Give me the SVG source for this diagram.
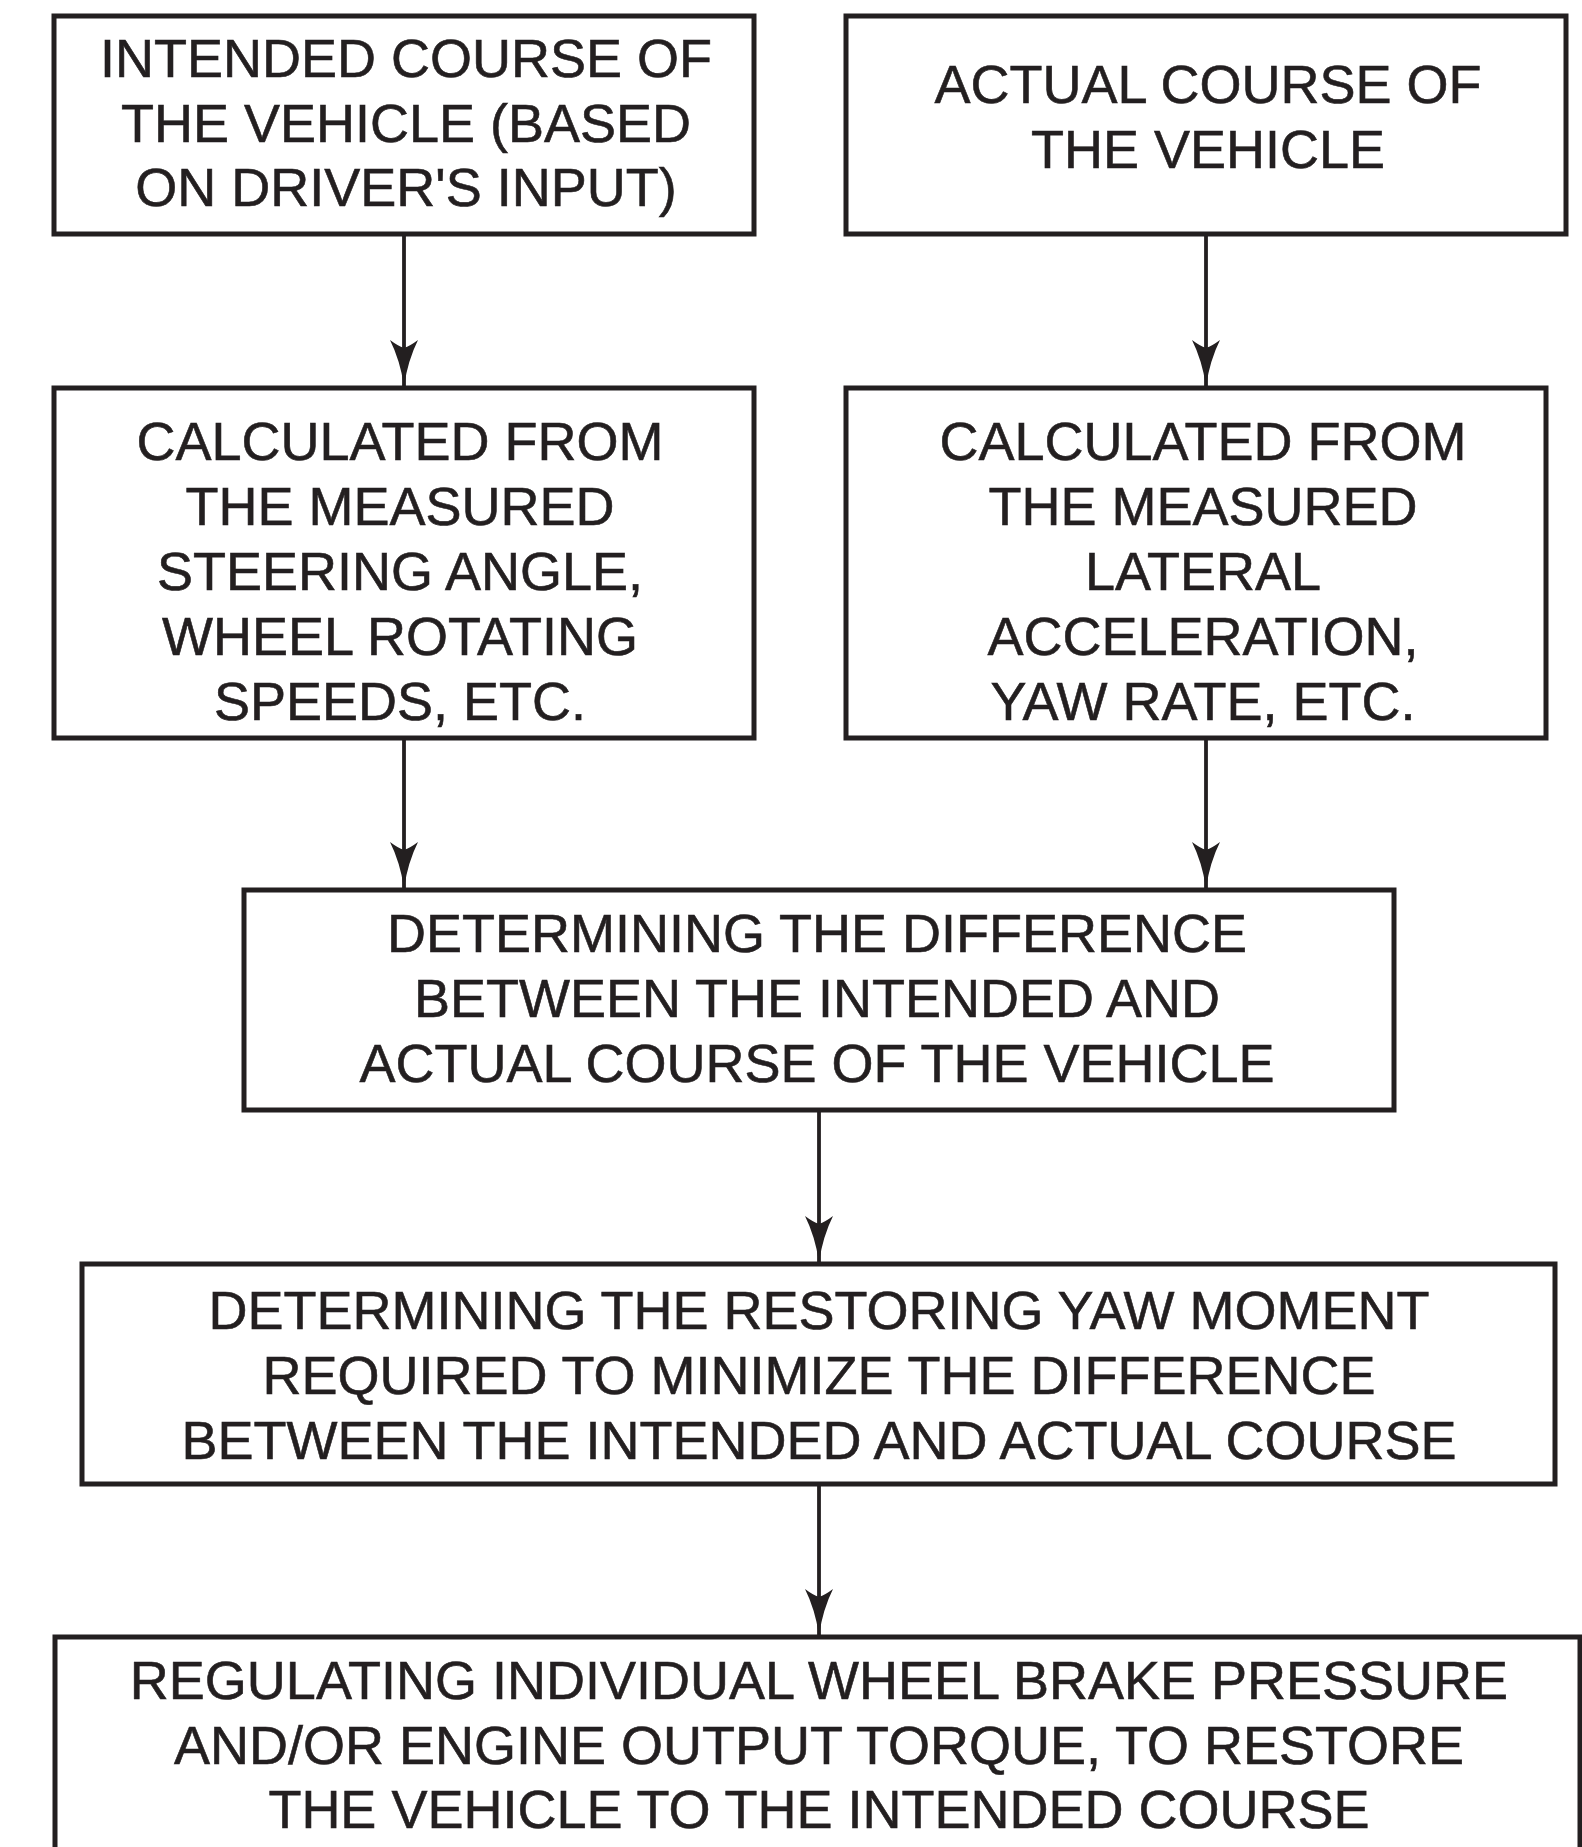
<svg xmlns="http://www.w3.org/2000/svg" width="1582" height="1847" viewBox="0 0 1582 1847">
<style>
.box{fill:#fff;stroke:#231f20;stroke-width:5}
.t{font-family:"Liberation Sans",Arial,Helvetica,sans-serif;font-size:54px;fill:#231f20;stroke:#231f20;stroke-width:0.6;text-anchor:middle}
.ln{stroke:#231f20;stroke-width:3.8;fill:none}
</style>
<defs>
<marker id="ah" markerUnits="userSpaceOnUse" markerWidth="50" markerHeight="32" viewBox="-48 -16 50 32" refX="0" refY="0" orient="auto">
<path d="M0,0 Q-26,-4 -46,-14 Q-40,-6 -38,0 Q-40,6 -46,14 Q-26,4 0,0 Z" fill="#231f20"/>
</marker>
</defs>
<rect width="1582" height="1847" fill="#fff"/>
<g id="connectors">
<line class="ln" x1="404" y1="234" x2="404" y2="386" marker-end="url(#ah)"/>
<line class="ln" x1="1206" y1="234" x2="1206" y2="386" marker-end="url(#ah)"/>
<line class="ln" x1="404" y1="738" x2="404" y2="888" marker-end="url(#ah)"/>
<line class="ln" x1="1206" y1="738" x2="1206" y2="888" marker-end="url(#ah)"/>
<line class="ln" x1="819" y1="1110" x2="819" y2="1262" marker-end="url(#ah)"/>
<line class="ln" x1="819" y1="1484" x2="819" y2="1635" marker-end="url(#ah)"/>
</g>
<g id="n1">
<rect class="box" x="54" y="16" width="700" height="218"/>
<text class="t" x="406" y="77">INTENDED COURSE OF</text>
<text class="t" x="406" y="142">THE VEHICLE (BASED</text>
<text class="t" x="406" y="206">ON DRIVER'S INPUT)</text>
</g>
<g id="n2">
<rect class="box" x="846" y="16" width="720" height="218"/>
<text class="t" x="1208" y="103">ACTUAL COURSE OF</text>
<text class="t" x="1208" y="168">THE VEHICLE</text>
</g>
<g id="n3">
<rect class="box" x="54" y="388" width="700" height="350"/>
<text class="t" x="400" y="460">CALCULATED FROM</text>
<text class="t" x="400" y="525">THE MEASURED</text>
<text class="t" x="400" y="590">STEERING ANGLE,</text>
<text class="t" x="400" y="655">WHEEL ROTATING</text>
<text class="t" x="400" y="720">SPEEDS, ETC.</text>
</g>
<g id="n4">
<rect class="box" x="846" y="388" width="700" height="350"/>
<text class="t" x="1203" y="460">CALCULATED FROM</text>
<text class="t" x="1203" y="525">THE MEASURED</text>
<text class="t" x="1203" y="590">LATERAL</text>
<text class="t" x="1203" y="655">ACCELERATION,</text>
<text class="t" x="1203" y="720">YAW RATE, ETC.</text>
</g>
<g id="n5">
<rect class="box" x="244" y="890" width="1150" height="220"/>
<text class="t" x="817" y="952">DETERMINING THE DIFFERENCE</text>
<text class="t" x="817" y="1017">BETWEEN THE INTENDED AND</text>
<text class="t" x="817" y="1082">ACTUAL COURSE OF THE VEHICLE</text>
</g>
<g id="n6">
<rect class="box" x="82" y="1264" width="1473" height="220"/>
<text class="t" x="819" y="1329">DETERMINING THE RESTORING YAW MOMENT</text>
<text class="t" x="819" y="1394">REQUIRED TO MINIMIZE THE DIFFERENCE</text>
<text class="t" x="819" y="1459">BETWEEN THE INTENDED AND ACTUAL COURSE</text>
</g>
<g id="n7">
<rect class="box" x="55" y="1637" width="1525" height="260"/>
<text class="t" x="819" y="1699">REGULATING INDIVIDUAL WHEEL BRAKE PRESSURE</text>
<text class="t" x="819" y="1764">AND/OR ENGINE OUTPUT TORQUE, TO RESTORE</text>
<text class="t" x="819" y="1828">THE VEHICLE TO THE INTENDED COURSE</text>
</g>
</svg>
